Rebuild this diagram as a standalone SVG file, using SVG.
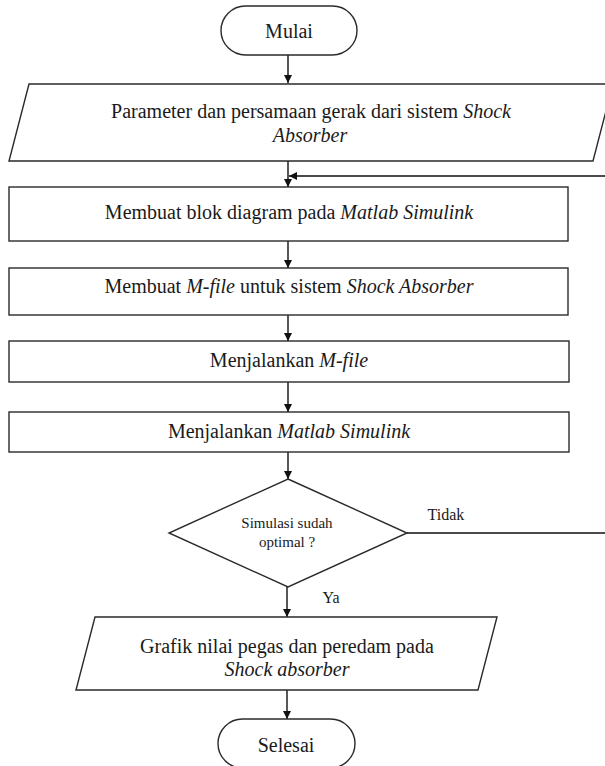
<svg xmlns="http://www.w3.org/2000/svg" width="605" height="766" viewBox="0 0 605 766">
<style>
.shape{fill:#fff;stroke:#2a2a2a;stroke-width:1.4}
.conn{fill:none;stroke:#111;stroke-width:1.4}
text{font-family:"Liberation Serif","Times New Roman",serif;fill:#1a1a1a;text-anchor:middle}
.t{font-size:20px}
.s{font-size:15px}
.l{font-size:16px}
.i{font-style:italic}
</style>
<defs>
<marker id="ah" viewBox="0 0 10 10" refX="10" refY="5" markerWidth="8" markerHeight="8" markerUnits="userSpaceOnUse" orient="auto">
<path d="M0,0 L10,5 L0,10 Z" fill="#111"/>
</marker>
</defs>
<rect width="605" height="766" fill="#fff"/>
<g id="connectors">
<line class="conn" x1="288" y1="55" x2="288" y2="83" marker-end="url(#ah)"/>
<line class="conn" x1="288" y1="161" x2="288" y2="187" marker-end="url(#ah)"/>
<line class="conn" x1="288" y1="241" x2="288" y2="268" marker-end="url(#ah)"/>
<line class="conn" x1="288" y1="315" x2="288" y2="341" marker-end="url(#ah)"/>
<line class="conn" x1="288" y1="382" x2="288" y2="412" marker-end="url(#ah)"/>
<line class="conn" x1="288" y1="452" x2="288" y2="479" marker-end="url(#ah)"/>
<line class="conn" x1="287" y1="587" x2="287" y2="617" marker-end="url(#ah)"/>
<line class="conn" x1="287" y1="690" x2="287" y2="719" marker-end="url(#ah)"/>
<path class="conn" d="M407,533 H607 V176 H289" marker-end="url(#ah)"/>
<text class="l" x="446" y="520">Tidak</text>
<text class="l" x="331" y="603">Ya</text>
</g>
<g id="mulai">
<rect class="shape" x="221" y="6" width="136" height="49" rx="24.5"/>
<text class="t" x="289" y="38">Mulai</text>
</g>
<g id="parameter">
<polygon class="shape" points="29,84 613,84 593,161 9,161"/>
<text class="t" x="311" y="118">Parameter dan persamaan gerak dari sistem <tspan class="i">Shock</tspan></text>
<text class="t i" x="310" y="142">Absorber</text>
</g>
<g id="blok">
<rect class="shape" x="9" y="187" width="559" height="54"/>
<text class="t" x="289" y="219">Membuat blok diagram pada <tspan class="i">Matlab Simulink</tspan></text>
</g>
<g id="mfile">
<rect class="shape" x="9" y="268" width="559" height="47"/>
<text class="t" x="289" y="293">Membuat <tspan class="i">M-file</tspan> untuk sistem <tspan class="i">Shock Absorber</tspan></text>
</g>
<g id="jalan-mfile">
<rect class="shape" x="9" y="341" width="560" height="41"/>
<text class="t" x="289" y="367">Menjalankan <tspan class="i">M-file</tspan></text>
</g>
<g id="jalan-simulink">
<rect class="shape" x="9" y="412" width="560" height="40"/>
<text class="t" x="289" y="438">Menjalankan <tspan class="i">Matlab Simulink</tspan></text>
</g>
<g id="keputusan">
<polygon class="shape" points="288,479 407,533 288,587 169,533"/>
<text class="s" x="287" y="528">Simulasi sudah</text>
<text class="s" x="287" y="547">optimal ?</text>
</g>
<g id="grafik">
<polygon class="shape" points="95,617 497,617 478,690 76,690"/>
<text class="t" x="287" y="653">Grafik nilai pegas dan peredam pada</text>
<text class="t i" x="287" y="676">Shock absorber</text>
</g>
<g id="selesai">
<rect class="shape" x="218" y="719" width="137" height="49" rx="24.5"/>
<text class="t" x="286" y="752">Selesai</text>
</g>
</svg>
